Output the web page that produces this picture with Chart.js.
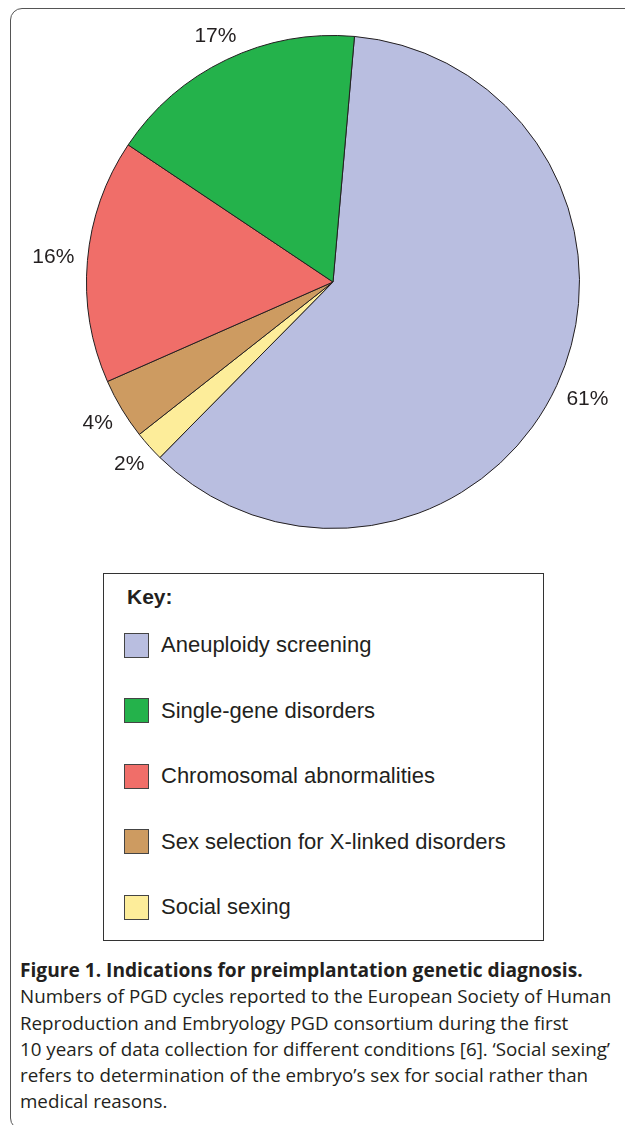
<!DOCTYPE html>
<html>
<head>
<meta charset="utf-8">
<script src="https://cdn.jsdelivr.net/npm/chart.js@4"></script>
<style>
  body { margin: 0; background: #fff; width: 625px; height: 1125px; position: relative; overflow: hidden; }
  #frame { position: absolute; left: 10px; top: 8px; width: 700px; height: 1120px; border: 1.5px solid #555; border-radius: 12px; }
  #pie { position: absolute; left: 0; top: 0; }
  #key { position: absolute; left: 103px; top: 573px; width: 439px; height: 366px; border: 1.2px solid #333; font-family: "Liberation Sans", Arial, sans-serif; color: #231f20; }
  #key .title { position: absolute; left: 23px; top: 11px; font-weight: bold; font-size: 21px; }
  #key .item { position: absolute; left: 20px; height: 26px; display: flex; align-items: center; font-size: 22px; white-space: nowrap; }
  #key .sw { width: 25px; height: 25px; border: 1.2px solid #444; margin-right: 12px; box-sizing: border-box; }
  #caption { position: absolute; left: 20px; top: 957px; font-family: "Open Sans", sans-serif; color: #231f20; line-height: 26.3px; white-space: nowrap; }
  #caption b { font-weight: bold; }
</style>
</head>
<body>
<div id="frame"></div>
<canvas id="pie" width="625" height="564"></canvas>
<div id="key"><div class="title">Key:</div></div>
<div id="caption"></div>
<script>
// slices in clockwise order, starting near 12 o'clock
var categories = ["Aneuploidy screening", "Social sexing", "Sex selection for X-linked disorders", "Chromosomal abnormalities", "Single-gene disorders"];
var percents = [61, 2, 4, 16, 17];
var colors = ["#b9bee0", "#fded9a", "#cd9b61", "#f06e69", "#24b24b"];
// order of the entries in the key box
var keyOrder = [0, 4, 3, 2, 1];

var captionTitle = "Figure 1. Indications for preimplantation genetic diagnosis.";
var captionLines = [
  "Numbers of PGD cycles reported to the European Society of Human",
  "Reproduction and Embryology PGD consortium during the first",
  "10 years of data collection for different conditions [6]. \u2018Social sexing\u2019",
  "refers to determination of the embryo\u2019s sex for social rather than",
  "medical reasons."
];

const outsideLabels = {
  id: 'outsideLabels',
  afterDatasetsDraw(chart) {
    var ctx = chart.ctx;
    var meta = chart.getDatasetMeta(0);
    ctx.save();
    ctx.font = '21px "Liberation Sans", Arial, sans-serif';
    ctx.fillStyle = '#231f20';
    ctx.textAlign = 'center';
    ctx.textBaseline = 'middle';
    meta.data.forEach(function (arc, i) {
      var mid = (arc.startAngle + arc.endAngle) / 2;
      var ux = Math.cos(mid), uy = Math.sin(mid);
      var txt = percents[i] + '%';
      var w = ctx.measureText(txt).width;
      var d = arc.outerRadius + 13 + Math.abs(ux) * w / 2 + Math.abs(uy) * 4;
      ctx.fillText(txt, arc.x + ux * d, arc.y + uy * d);
    });
    ctx.restore();
  }
};

new Chart(document.getElementById('pie').getContext('2d'), {
  type: 'pie',
  data: {
    labels: categories,
    datasets: [{
      data: percents,
      backgroundColor: colors,
      borderColor: '#231f20',
      borderWidth: 1
    }]
  },
  options: {
    responsive: false,
    animation: false,
    rotation: 5,
    layout: { padding: { left: 86, right: 45, top: 35, bottom: 35 } },
    plugins: { legend: { display: false }, tooltip: { enabled: false } }
  },
  plugins: [outsideLabels]
});

// key box
var key = document.getElementById('key');
keyOrder.forEach(function (idx, n) {
  var it = document.createElement('div');
  it.className = 'item';
  it.style.top = (58 + n * 65.5) + 'px';
  it.innerHTML = '<div class="sw" style="background:' + colors[idx] + '"></div>' + categories[idx];
  key.appendChild(it);
});

// caption, sized to the widths of the printed lines
var cap = document.getElementById('caption');
var t = document.createElement('div');
t.innerHTML = '<b>' + captionTitle + '</b>';
cap.appendChild(t);
captionLines.forEach(function (l) {
  var d = document.createElement('div');
  d.textContent = l;
  cap.appendChild(d);
});
var mc = document.createElement('canvas').getContext('2d');
mc.font = 'bold 20px "Open Sans"';
var tw = mc.measureText(captionTitle).width;
t.style.fontSize = (20 * 563 / tw) + 'px';
mc.font = '20px "Open Sans"';
var lw = mc.measureText(captionLines[0]).width;
for (var k = 1; k < cap.children.length; k++) cap.children[k].style.fontSize = (20 * 592 / lw) + 'px';
</script>
</body>
</html>
